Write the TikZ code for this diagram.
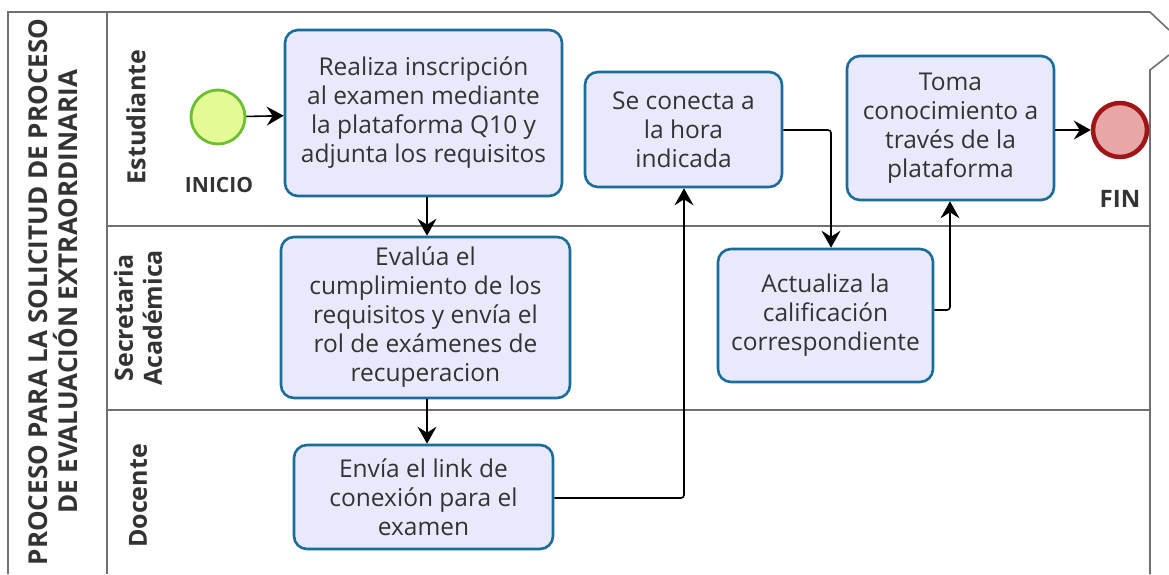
\documentclass[tikz,border=0pt]{standalone}
\usepackage{fontspec}
\setmainfont{Open Sans}
\usetikzlibrary{arrows.meta}
\definecolor{pool}{HTML}{707070}
\definecolor{taskfill}{HTML}{E8E9FC}
\definecolor{taskdraw}{HTML}{1B6C98}
\definecolor{txt}{HTML}{333333}
\definecolor{startfill}{HTML}{E4FB95}
\definecolor{startdraw}{HTML}{6CBF34}
\definecolor{endfill}{HTML}{E8A6A6}
\definecolor{enddraw}{HTML}{A01515}
\tikzset{
  x=1pt, y=-1pt,
  pooline/.style={draw=pool, line width=1.6pt},
  task/.style={draw=taskdraw, fill=taskfill, line width=2.6pt, rounded corners=13pt,
    text=txt, font=\fontsize{24.5}{29}\selectfont, align=center, inner sep=0pt},
  lanelabel/.style={rotate=90, font=\fontsize{25}{29}\selectfont\bfseries, text=txt, align=center},
  flow/.style={draw=black, line width=1.6pt, rounded corners=3pt,
    -{Stealth[length=17pt,width=19pt,inset=6pt]}},
  evlabel/.style={font=\fontsize{21}{24}\selectfont\bfseries, text=txt},
}
\begin{document}
\begin{tikzpicture}
\useasboundingbox (0,0) rectangle (1169,574);
\fill[white] (0,0) rectangle (1169,574);
% pool
\draw[pooline] (8,574) -- (8,12) -- (1150,12) -- (1169,30);
\draw[pooline] (1169,55) -- (1150,70) -- (1150,574);
\draw[pooline] (107,12) -- (107,574);
\draw[pooline] (107,226) -- (1150,226);
\draw[pooline] (107,410) -- (1150,410);
% title and lane labels
\node[rotate=90, font=\fontsize{26}{30}\selectfont\bfseries, text=txt, align=center] (title) at (53,292)
  {PROCESO PARA LA SOLICITUD DE PROCESO\\DE EVALUACIÓN EXTRAORDINARIA};
\node[lanelabel] (l1) at (136,117) {Estudiante};
\node[lanelabel] (l2) at (138,318) {Secretaria\\Académica};
\node[lanelabel] (l3) at (138,496) {Docente};
% events
\node[circle, draw=startdraw, fill=startfill, line width=2.8pt, minimum size=54pt, inner sep=0pt] (start) at (218,117) {};
\node[evlabel] (startlbl) at (219,185) {INICIO};
\node[circle, draw=enddraw, fill=endfill, line width=4.5pt, minimum size=54pt, inner sep=0pt] (end) at (1120,130) {};
\node[evlabel, font=\fontsize{24}{26}\selectfont\bfseries] (endlbl) at (1120,199) {FIN};
% tasks
\node[task, minimum width=277pt, minimum height=166pt] (t1) at (423.5,113)
  {Realiza inscripción\\al examen mediante\\la plataforma Q10 y\\adjunta los requisitos};
\node[task, minimum width=197pt, minimum height=115pt] (t2) at (683.5,129.5)
  {Se conecta a\\la hora\\indicada};
\node[task, minimum width=207pt, minimum height=144pt] (t3) at (950.5,128)
  {Toma\\conocimiento a\\través de la\\plataforma};
\node[task, minimum width=289pt, minimum height=161pt] (t4) at (425.5,317.5)
  {Evalúa el\\cumplimiento de los\\requisitos y envía el\\rol de exámenes de\\recuperacion};
\node[task, minimum width=215pt, minimum height=133pt] (t5) at (825.5,315.5)
  {Actualiza la\\calificación\\correspondiente};
\node[task, minimum width=259pt, minimum height=104pt] (t6) at (423.5,497)
  {Envía el link de\\conexión para el\\examen};
% flows
\draw[flow] (start) -- (t1);
\draw[flow] (t1.south -| 427,0) -- (t4.north -| 427,0);
\draw[flow] (t4.south -| 427,0) -- (t6.north -| 427,0);
\draw[flow] (t6.east |- 0,498) -- (684,498) -- (t2.south -| 684,0);
\draw[flow] (t2.east |- 0,130) -- (831,130) -- (t5.north -| 831,0);
\draw[flow] (t5.east |- 0,310) -- (950,310) -- (t3.south -| 950,0);
\draw[flow] (t3.east |- 0,130) -- (end);
\end{tikzpicture}
\end{document}
